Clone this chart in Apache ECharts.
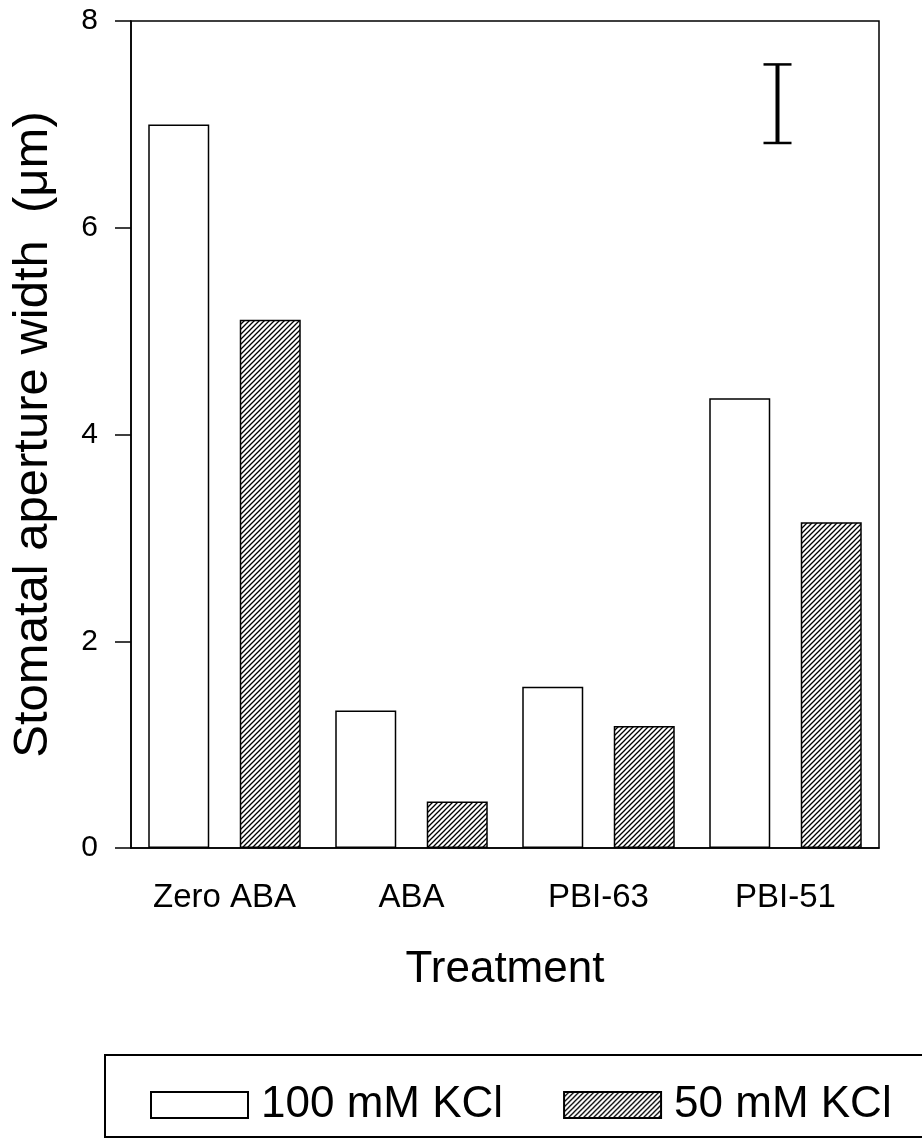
<!DOCTYPE html>
<html>
<head>
	<meta charset="utf-8"/>
	<title>Stomatal aperture width</title>
	<style>
		html, body { margin: 0; padding: 0; background: #fff; }
		#chart { width: 922px; height: 1141px; }
	</style>
</head>
<body>
	<div id="chart"></div>
	<script src="https://cdn.jsdelivr.net/npm/echarts@6/dist/echarts.min.js"></script>
	<script>
		// data
		var categories = ['Zero ABA', 'ABA', 'PBI-63', 'PBI-51'];
		var kcl100 = [7.0, 1.33, 1.56, 4.35];
		var kcl50 = [5.11, 0.45, 1.18, 3.15];
		var seriesNames = ['100 mM KCl', '50 mM KCl'];
		var yTicks = [0, 2, 4, 6, 8];
		// representative error bar (low, high), drawn near PBI-51
		var errLow = 6.82;
		var errHigh = 7.58;

		var FONT = 'Liberation Sans, Arial, sans-serif';

		// diagonal hatch pattern
		function makeHatch () {
			var c = document.createElement('canvas');
			c.width = 5;
			c.height = 5;
			var ctx = c.getContext('2d');
			ctx.fillStyle = '#fff';
			ctx.fillRect(0, 0, 5, 5);
			ctx.strokeStyle = '#000';
			ctx.lineWidth = 1.3;
			ctx.beginPath();
			ctx.moveTo(0, 5); ctx.lineTo(5, 0);
			ctx.moveTo(-1, 1); ctx.lineTo(1, -1);
			ctx.moveTo(4, 6); ctx.lineTo(6, 4);
			ctx.stroke();
			return c;
		}

		var myChart = echarts.init(document.getElementById('chart'));

		var option = {
			backgroundColor: '#fff',
			animation: false,
			grid: {
				left: 131,
				right: 43,
				top: 21,
				bottom: 293,
				outerBoundsMode: 'none',
				containLabel: false,
				show: true,
				borderColor: '#000',
				borderWidth: 1.5
			},
			legend: {
				data: seriesNames,
				left: 150,
				top: 1083,
				padding: 0,
				icon: 'rect',
				itemWidth: 97,
				itemHeight: 26,
				itemGap: 60,
				textStyle: { fontFamily: FONT, fontSize: 44, color: '#000', padding: [0, 0, 0, 8] }
			},
			xAxis: {
				type: 'category',
				data: categories,
				name: 'Treatment',
				nameLocation: 'middle',
				nameGap: 100,
				nameTextStyle: { fontFamily: FONT, fontSize: 44, color: '#000' },
				axisLine: { lineStyle: { color: '#000', width: 1.5 } },
				axisTick: { alignWithLabel: true, length: 16, lineStyle: { color: '#000', width: 1.5 } },
				axisLabel: { fontFamily: FONT, fontSize: 33, color: '#000', margin: 33 }
			},
			yAxis: {
				type: 'value',
				min: yTicks[0],
				max: yTicks[yTicks.length - 1],
				interval: 2,
				name: 'Stomatal aperture width  (\u03bcm)',
				nameLocation: 'middle',
				nameRotate: 90,
				nameGap: 73,
				nameTextStyle: { fontFamily: FONT, fontSize: 49, color: '#000' },
				splitLine: { show: false },
				axisLine: { show: true, lineStyle: { color: '#000', width: 1.5 } },
				axisTick: { show: true, length: 16, lineStyle: { color: '#000', width: 1.5 } },
				axisLabel: { fontFamily: FONT, fontSize: 30, color: '#000', margin: 33 }
			},
			series: [
				{
					name: seriesNames[0],
					type: 'bar',
					data: kcl100,
					barWidth: 61,
					barGap: '50%',
					itemStyle: { color: '#fff', borderColor: '#000', borderWidth: 1.5 }
				},
				{
					name: seriesNames[1],
					type: 'bar',
					data: kcl50,
					barWidth: 61,
					barGap: '50%',
					itemStyle: {
						color: { image: makeHatch(), repeat: 'repeat' },
						borderColor: '#000',
						borderWidth: 1.5
					}
				},
				{
					name: 'error',
					type: 'custom',
					data: [[3, errLow, errHigh]],
					z: 5,
					renderItem: function (params, api) {
						var lo = api.coord([api.value(0), api.value(1)]);
						var hi = api.coord([api.value(0), api.value(2)]);
						var x = lo[0] - 8;
						var cap = 14;
						return {
							type: 'group',
							children: [
								{ type: 'line', shape: { x1: x, y1: lo[1], x2: x, y2: hi[1] }, style: { stroke: '#000', lineWidth: 4 } },
								{ type: 'line', shape: { x1: x - cap, y1: hi[1], x2: x + cap, y2: hi[1] }, style: { stroke: '#000', lineWidth: 2.5 } },
								{ type: 'line', shape: { x1: x - cap, y1: lo[1], x2: x + cap, y2: lo[1] }, style: { stroke: '#000', lineWidth: 2.5 } }
							]
						};
					}
				}
			],
			graphic: [
				{
					type: 'rect',
					shape: { x: 105, y: 1055, width: 860, height: 82 },
					style: { fill: 'none', stroke: '#000', lineWidth: 2 },
					silent: true
				}
			]
		};

		myChart.setOption(option);
	</script>
</body>
</html>
